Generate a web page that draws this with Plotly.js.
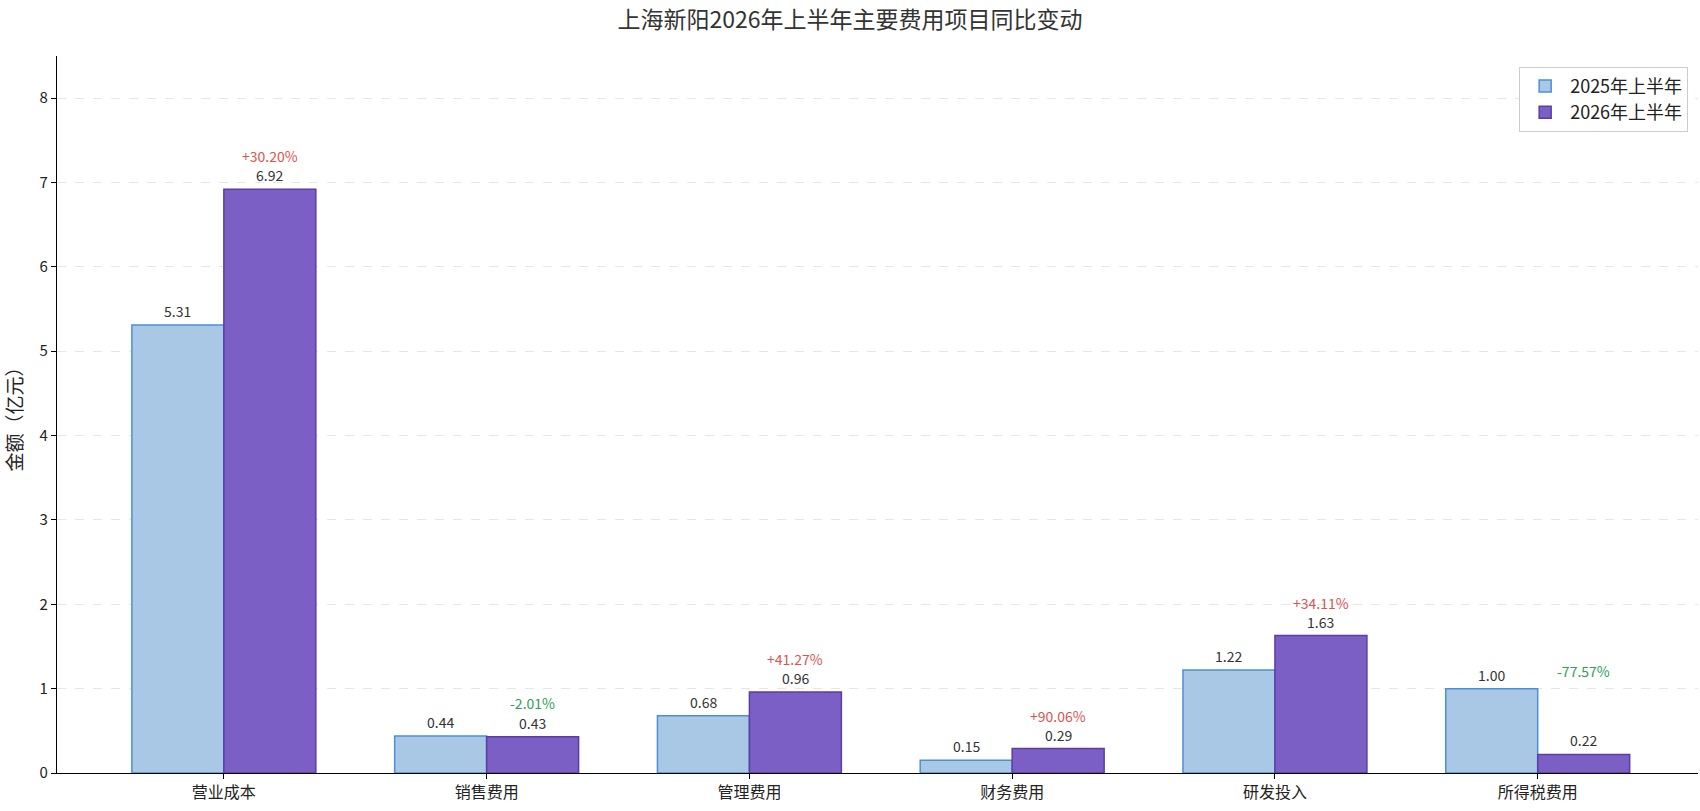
<!DOCTYPE html>
<html>
<head>
<meta charset="utf-8">
<script src="https://cdn.plot.ly/plotly-3.0.1.min.js"></script>
<style>
  html, body { margin: 0; padding: 0; background: #fff; }
  #chart { width: 1700px; height: 811px; }
</style>
</head>
<body>
<div id="chart"></div>
<script>
var categories = ['营业成本', '销售费用', '管理费用', '财务费用', '研发投入', '所得税费用'];
var h1_2025 = [5.31, 0.44, 0.68, 0.15, 1.22, 1.00];
var h1_2026 = [6.92, 0.43, 0.96, 0.29, 1.63, 0.22];
var changes = ['+30.20%', '-2.01%', '+41.27%', '+90.06%', '+34.11%', '-77.57%'];

var font = '"Noto Sans CJK SC", "Noto Sans", sans-serif';

var data = [{
  type: 'bar',
  name: '2025年上半年',
  x: categories,
  y: h1_2025,
  marker: { color: '#a8c8e6', line: { color: '#4a90d9', width: 1.5 } }
}, {
  type: 'bar',
  name: '2026年上半年',
  x: categories,
  y: h1_2026,
  marker: { color: '#7b5fc4', line: { color: '#5a3ea6', width: 1.5 } }
}];

var annotations = [];
categories.forEach(function(c, i) {
  annotations.push({
    x: i - 0.175, y: h1_2025[i], text: h1_2025[i].toFixed(2),
    showarrow: false, yanchor: 'bottom', yshift: 2,
    font: { family: font, size: 14, color: '#333' }
  });
  annotations.push({
    x: i + 0.175, y: h1_2026[i], text: h1_2026[i].toFixed(2),
    showarrow: false, yanchor: 'bottom', yshift: 2,
    font: { family: font, size: 14, color: '#333' }
  });
  var up = changes[i].charAt(0) === '+';
  // change label sits above the higher bar; lift it clear of the 2026 value label
  var top = Math.max(h1_2025[i], h1_2026[i]);
  var shift = h1_2026[i] >= top - 0.1 ? 21 : 6;
  annotations.push({
    x: i + 0.175, y: top, text: changes[i],
    showarrow: false, yanchor: 'bottom', yshift: shift,
    font: { family: font, size: 14, color: up ? '#e05252' : '#2e9e5b' }
  });
});

var layout = {
  width: 1700,
  height: 811,
  margin: { l: 57, r: 2, t: 56, b: 38 },
  paper_bgcolor: '#fff',
  plot_bgcolor: '#fff',
  font: { family: font, color: '#222' },
  title: {
    text: '上海新阳2026年上半年主要费用项目同比变动',
    x: 0.5, xanchor: 'center', y: 0.975, yanchor: 'middle',
    font: { family: font, size: 23, color: '#333' }
  },
  barmode: 'group',
  bargap: 0.3,
  bargroupgap: 0,
  xaxis: {
    type: 'category',
    range: [-0.635, 5.61],
    showline: true, linecolor: '#000', linewidth: 1.2,
    ticks: 'outside', ticklen: 5, tickcolor: '#000',
    showgrid: false, zeroline: false,
    tickfont: { family: font, size: 16, color: '#222' }
  },
  yaxis: {
    range: [0, 8.5],
    dtick: 1,
    showline: true, linecolor: '#000', linewidth: 1.2,
    ticks: 'outside', ticklen: 5, tickcolor: '#000',
    showgrid: true, gridcolor: '#e6e6e6', griddash: 'dash', gridwidth: 1,
    zeroline: false,
    tickfont: { family: font, size: 15, color: '#222' },
    title: { text: '金额（亿元）', font: { family: font, size: 19, color: '#222' }, standoff: 12 }
  },
  legend: {
    x: 0.994, xanchor: 'right', y: 0.985, yanchor: 'top',
    bgcolor: 'rgba(255,255,255,0.9)', bordercolor: '#cccccc', borderwidth: 1,
    font: { family: font, size: 18, color: '#222' },
    itemwidth: 40,
    tracegroupgap: 6
  },
  annotations: annotations
};

Plotly.newPlot('chart', data, layout, { displayModeBar: false, staticPlot: true });
</script>
</body>
</html>
